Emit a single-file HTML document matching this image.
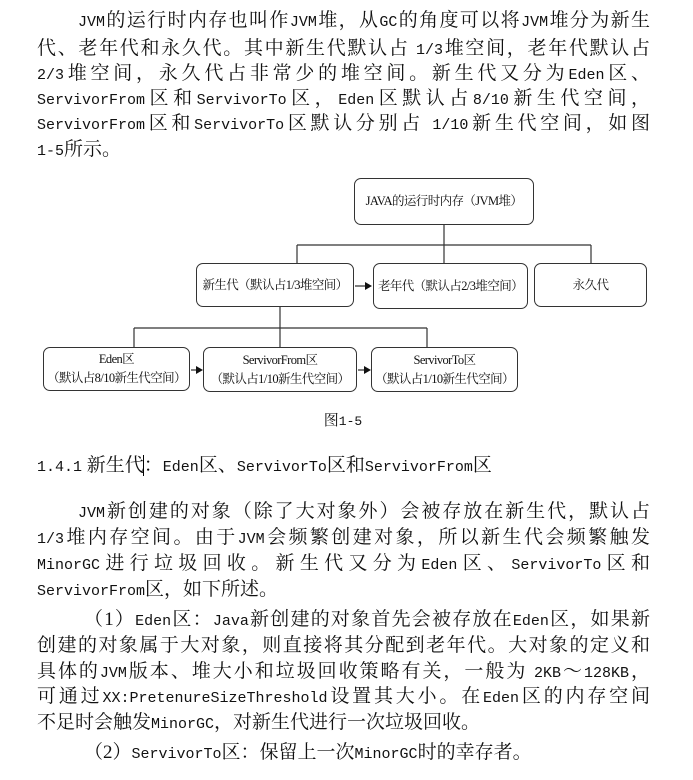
<!DOCTYPE html>
<html><head><meta charset="utf-8">
<style>
html,body{margin:0;padding:0;background:#fff;}
body{width:693px;height:780px;position:relative;overflow:hidden;font-family:"Liberation Serif","Noto Serif CJK SC",serif;color:#111;}
.l{position:absolute;left:37px;width:613px;height:26px;line-height:26px;font-size:19px;text-align:justify;text-align-last:justify;white-space:nowrap;}
.l.n{text-align-last:left;}
.l i{font-style:normal;font-family:"Liberation Mono",monospace;font-size:15px;}
.b{position:absolute;border:1px solid #333;border-radius:7px;background:#fff;box-sizing:border-box;font-size:12.5px;letter-spacing:-0.6px;white-space:nowrap;display:flex;align-items:center;justify-content:center;text-align:center;line-height:19px;font-family:"Liberation Serif","Noto Serif CJK SC",serif;}
</style></head><body>
<div class="l" style="top:8px;left:78px;width:572px;"><i>JVM</i>的运行时内存也叫作<i>JVM</i>堆，从<i>GC</i>的角度可以将<i>JVM</i>堆分为新生</div>
<div class="l" style="top:36px;">代、老年代和永久代。其中新生代默认占 <i>1/3</i>堆空间，老年代默认占</div>
<div class="l" style="top:61px;"><i>2/3</i>堆空间，永久代占非常少的堆空间。新生代又分为<i>Eden</i>区、</div>
<div class="l" style="top:86px;"><i>ServivorFrom</i>区和<i>ServivorTo</i>区，<i>Eden</i>区默认占<i>8/10</i>新生代空间，</div>
<div class="l" style="top:111px;"><i>ServivorFrom</i>区和<i>ServivorTo</i>区默认分别占 <i>1/10</i>新生代空间，如图</div>
<div class="l n" style="top:137px;"><i>1-5</i>所示。</div>

<svg style="position:absolute;left:0;top:0" width="693" height="440">
<g stroke="#333" stroke-width="1.2" fill="none">
<path d="M444 225V245M297 245H591M297 245V263M444 245V263M591 245V263"/>
<path d="M280 307V328M134 328H427M134 328V347M280 328V347M427 328V347"/>
<path d="M355 286H366M191 370H197M358 370H364"/>
</g>
<g fill="#111">
<path d="M372 286L365 282V290Z"/>
<path d="M203 370L196 366V374Z"/>
<path d="M371 370L364 366V374Z"/>
</g>
</svg>
<div class="b" style="left:354px;top:178px;width:180px;height:47px;">JAVA的运行时内存（JVM堆）</div>
<div class="b" style="left:196px;top:263px;width:158px;height:44px;">新生代（默认占1/3堆空间）</div>
<div class="b" style="left:373px;top:263px;width:155px;height:46px;">老年代（默认占2/3堆空间）</div>
<div class="b" style="left:534px;top:263px;width:113px;height:44px;">永久代</div>
<div class="b" style="left:43px;top:347px;width:147px;height:44px;">Eden区<br>（默认占8/10新生代空间）</div>
<div class="b" style="left:203px;top:347px;width:154px;height:45px;">ServivorFrom区<br>（默认占1/10新生代空间）</div>
<div class="b" style="left:371px;top:347px;width:147px;height:45px;">ServivorTo区<br>（默认占1/10新生代空间）</div>
<div style="position:absolute;left:313px;top:411px;width:60px;text-align:center;font-size:15px;line-height:20px;">图<i style="font-style:normal;font-family:'Liberation Mono',monospace;font-size:13px;">1-5</i></div>

<div class="l n" style="top:453px;"><i>1.4.1</i> 新生代<span style="border-left:1px solid #000;margin-left:-1px"></span>：<i>Eden</i>区、<i>ServivorTo</i>区和<i>ServivorFrom</i>区</div>
<div class="l" style="top:499px;left:78px;width:572px;"><i>JVM</i>新创建的对象（除了大对象外）会被存放在新生代，默认占</div>
<div class="l" style="top:525px;"><i>1/3</i>堆内存空间。由于<i>JVM</i>会频繁创建对象，所以新生代会频繁触发</div>
<div class="l" style="top:551px;"><i>MinorGC</i>进行垃圾回收。新生代又分为<i>Eden</i>区、<i>ServivorTo</i>区和</div>
<div class="l n" style="top:577px;"><i>ServivorFrom</i>区，如下所述。</div>
<div class="l" style="top:607px;left:84px;width:566px;">（1）<i>Eden</i>区：<i>Java</i>新创建的对象首先会被存放在<i>Eden</i>区，如果新</div>
<div class="l" style="top:633px;">创建的对象属于大对象，则直接将其分配到老年代。大对象的定义和</div>
<div class="l" style="top:659px;">具体的<i>JVM</i>版本、堆大小和垃圾回收策略有关，一般为 <i>2KB</i>～<i>128KB</i>，</div>
<div class="l" style="top:684px;">可通过<i>XX:PretenureSizeThreshold</i>设置其大小。在<i>Eden</i>区的内存空间</div>
<div class="l n" style="top:710px;">不足时会触发<i>MinorGC</i>，对新生代进行一次垃圾回收。</div>
<div class="l n" style="top:740px;left:84px;">（2）<i>ServivorTo</i>区：保留上一次<i>MinorGC</i>时的幸存者。</div>
</body></html>
